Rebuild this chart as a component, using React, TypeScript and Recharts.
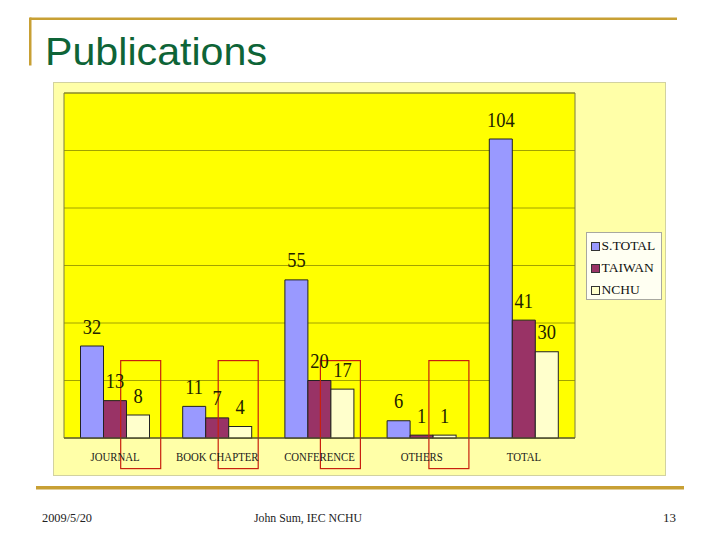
import React from 'react';
import { BarChart, Bar, XAxis, YAxis, CartesianGrid, LabelList, Legend, ReferenceArea } from 'recharts';

// ---- data ----
const categories = ['JOURNAL', 'BOOK CHAPTER', 'CONFERENCE', 'OTHERS', 'TOTAL'];
const sTotal = [32, 11, 55, 6, 104];
const taiwan = [13, 7, 20, 1, 41];
const nchu = [8, 4, 17, 1, 30];
const circled = [true, true, true, true, false];
const yTicks = [0, 20, 40, 60, 80, 100, 120];
const seriesNames = ['S.TOTAL', 'TAIWAN', 'NCHU'];

// ---- styles ----
const COLORS = ['#9999ff', '#993366', '#ffffcc'];
const circleNudge = [2.7, -2, -2, 4.3];
const SERIF = "'Liberation Serif', 'DejaVu Serif', serif";
const GOLD = '#c8a034';

const data = categories.map((c, i) => ({
  name: c,
  stotal: sTotal[i],
  taiwan: taiwan[i],
  nchu: nchu[i],
}));

const ValueLabel = (props: any) => {
  const { x, y, width, value } = props;
  const cx = Number(x) + Number(width) / 2;
  const by = Number(y) - 12.5;
  return (
    <text
      transform={`translate(${cx},${by}) scale(0.9,1)`}
      textAnchor="middle"
      fontFamily={SERIF}
      fontSize={20.5}
      fill="#222200"
    >
      {value}
    </text>
  );
};

const CategoryTick = (props: any) => {
  const { x, y, payload } = props;
  return (
    <text
      transform={`translate(${x},${Number(y) + 22.7}) scale(0.9,1)`}
      textAnchor="middle"
      fontFamily={SERIF}
      fontSize={12}
      fill="#1a1a1a"
    >
      {payload.value}
    </text>
  );
};

const NoTick = () => <g />;

const NchuShape = (props: any) => {
  const { x, y, width, height, index } = props;
  const base = Number(y) + Number(height);
  return (
    <g>
      <rect x={x} y={y} width={width} height={height} fill={COLORS[2]} stroke="#222" strokeWidth={1} />
      {circled[index] && (
        <rect
          x={Number(x) + Number(width) / 2 + circleNudge[index] - 20}
          y={base - 77.4}
          width={40}
          height={108}
          fill="none"
          stroke="#c8200e"
          strokeWidth={1.2}
        />
      )}
    </g>
  );
};

const LegendBox = (props: any) => {
  const payload = [...(props.payload || [])].sort(
    (a: any, b: any) => seriesNames.indexOf(a.value) - seriesNames.indexOf(b.value)
  );
  return (
    <div
      style={{
        width: 76,
        height: 68,
        boxSizing: 'border-box',
        border: '1px solid #a8a8a0',
        background: '#fffff2',
        position: 'relative',
        fontFamily: SERIF,
        fontSize: 13.5,
        color: '#111',
      }}
    >
      {payload.map((p: any, i: number) => (
        <div
          key={p.value}
          style={{
            position: 'absolute',
            left: 3.5,
            top: 13 + i * 22 - 8,
            height: 16,
            display: 'flex',
            alignItems: 'center',
            whiteSpace: 'nowrap',
          }}
        >
          <span
            style={{
              width: 7,
              height: 7,
              border: '1px solid #333',
              background: p.color,
              display: 'inline-block',
              marginRight: 2,
            }}
          />
          <span>{p.value}</span>
        </div>
      ))}
    </div>
  );
};

export default function App() {
  return (
    <div style={{ position: 'absolute', left: 0, top: 0, width: 720, height: 540, background: '#ffffff', overflow: 'hidden' }}>
      <svg width={720} height={540} style={{ position: 'absolute', left: 0, top: 0 }}>
        <rect x={30} y={17.5} width={647} height={2.5} fill={GOLD} />
        <rect x={29} y={17.5} width={2.5} height={48} fill={GOLD} />
        <text
          x={45}
          y={65}
          fontFamily="'Liberation Sans', Arial, sans-serif"
          fontSize={38}
          fill="#0e6437"
          textLength={222}
          lengthAdjust="spacingAndGlyphs"
        >
          Publications
        </text>
        <rect x={36} y={486} width={648} height={3.5} fill={GOLD} />
        <text x={42} y={522} fontFamily={SERIF} fontSize={12.5} fill="#222" textLength={50} lengthAdjust="spacingAndGlyphs">
          2009/5/20
        </text>
        <text x={254} y={522} fontFamily={SERIF} fontSize={12.5} fill="#222" textLength={108} lengthAdjust="spacingAndGlyphs">
          John Sum, IEC NCHU
        </text>
        <text x={663} y={522} fontFamily={SERIF} fontSize={12.5} fill="#222" textLength={13} lengthAdjust="spacingAndGlyphs">
          13
        </text>
      </svg>
      <div
        style={{
          position: 'absolute',
          left: 53,
          top: 82,
          width: 613,
          height: 394,
          background: '#ffffa8',
          boxShadow: 'inset 0 0 0 1px #d2d2a0',
        }}
      >
        <BarChart
          width={613}
          height={394}
          data={data}
          margin={{ top: 11, right: 91, bottom: 0, left: 11 }}
          barCategoryGap={16.5}
          barGap={0}
        >
          <CartesianGrid
            vertical={false}
            fill="#ffff00"
            fillOpacity={1}
            stroke="#a2a200"
            strokeWidth={1}
            strokeOpacity={1}
            {...({ zIndex: -100 } as any)}
          />
          <YAxis
            type="number"
            domain={[0, 120]}
            ticks={yTicks}
            interval={0}
            width={0}
            tick={NoTick}
            tickLine={false}
            axisLine={false}
          />
          <XAxis
            dataKey="name"
            height={38}
            tickSize={0}
            tickMargin={0}
            tickLine={false}
            axisLine={{ stroke: '#555530' }}
            tick={(p: any) => <CategoryTick {...p} />}
            interval={0}
          />
          <ReferenceArea
            x1={categories[0]}
            x2={categories[categories.length - 1]}
            y1={0}
            y2={120}
            fill="none"
            stroke="#7c7c40"
            strokeWidth={1}
            ifOverflow="visible"
          />
          <Legend
            layout="horizontal"
            verticalAlign="middle"
            align="center"
            width={76}
            height={68}
            wrapperStyle={{ position: 'absolute', left: 533, top: 150, width: 76, height: 68 }}
            content={(p: any) => <LegendBox {...p} />}
          />
          <Bar dataKey="stotal" name={seriesNames[0]} fill={COLORS[0]} fillOpacity={1} stroke="#222" strokeWidth={1} isAnimationActive={false}>
            <LabelList dataKey="stotal" content={(p: any) => <ValueLabel {...p} />} />
          </Bar>
          <Bar dataKey="taiwan" name={seriesNames[1]} fill={COLORS[1]} fillOpacity={1} stroke="#222" strokeWidth={1} isAnimationActive={false}>
            <LabelList dataKey="taiwan" content={(p: any) => <ValueLabel {...p} />} />
          </Bar>
          <Bar dataKey="nchu" name={seriesNames[2]} fill={COLORS[2]} fillOpacity={1} stroke="#222" strokeWidth={1} isAnimationActive={false} shape={(p: any) => <NchuShape {...p} />}>
            <LabelList dataKey="nchu" content={(p: any) => <ValueLabel {...p} />} />
          </Bar>
        </BarChart>
      </div>
    </div>
  );
}
